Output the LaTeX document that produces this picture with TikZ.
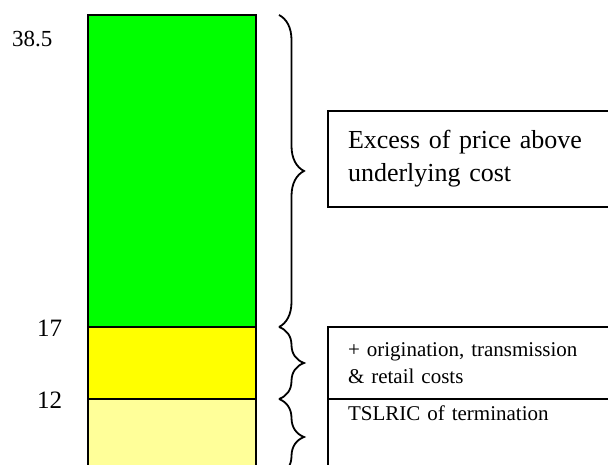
\documentclass[tikz,border=0pt]{standalone}
\usepackage{fontspec}
\setmainfont{Liberation Serif}
\usetikzlibrary{positioning, decorations.pathreplacing}
\definecolor{excessgreen}{RGB}{0,255,0}
\definecolor{origyellow}{RGB}{255,255,0}
\definecolor{termyellow}{RGB}{255,255,153}

\begin{document}
\begin{tikzpicture}[x=1pt, y=1pt,
bar/.style = {draw, line width=2pt, minimum width=168pt, inner sep=0pt, outer sep=0pt},
note/.style = {draw, line width=1.8pt, minimum width=292pt, inner xsep=20pt,
    text width=252pt, align=left, anchor=north west, outer sep=0pt},
value/.style = {anchor=base west, inner sep=0pt},
curly/.style = {decorate, decoration={brace, amplitude=25pt}, line width=1.8pt}]
\useasboundingbox (0,0) rectangle (608,465);
\clip (0,0) rectangle (608,465);
% stacked bar
\node [bar, fill=excessgreen, minimum height=312pt, anchor=north west] (excess) at (88,450) {};
\node [bar, fill=origyellow, minimum height=72pt, below=0pt of excess] (orig) {};
\node [bar, fill=termyellow, minimum height=76pt, below=0pt of orig] (term) {};
% values
\node [value, font=\fontsize{23}{28}\selectfont] (top) at (12,418) {38.5};
\node [value, font=\fontsize{25}{30}\selectfont] (mid) at (37,128) {17};
\node [value, font=\fontsize{25}{30}\selectfont] (low) at (37,56) {12};
% braces
\draw [curly] ([xshift=23pt]excess.north east) -- ([xshift=23pt]excess.south east);
\draw [curly] ([xshift=23pt]orig.north east) -- ([xshift=23pt]orig.south east);
\draw [curly] ([xshift=23pt]term.north east) -- ([xshift=23pt]term.south east);
% notes
\node [note, font=\fontsize{26}{33}\selectfont, minimum height=96pt] (excessnote) at (328,354)
    {Excess of price above\\ underlying cost};
\node [note, font=\fontsize{21}{27}\selectfont, minimum height=72pt] (orignote) at (328,138)
    {+ origination, transmission\\ \& retail costs};
\node [note, font=\fontsize{21}{27}\selectfont, text height=14pt, text depth=60pt, inner ysep=8pt]
    (termnote) at (328,66) {TSLRIC of termination};
\end{tikzpicture}
\end{document}
